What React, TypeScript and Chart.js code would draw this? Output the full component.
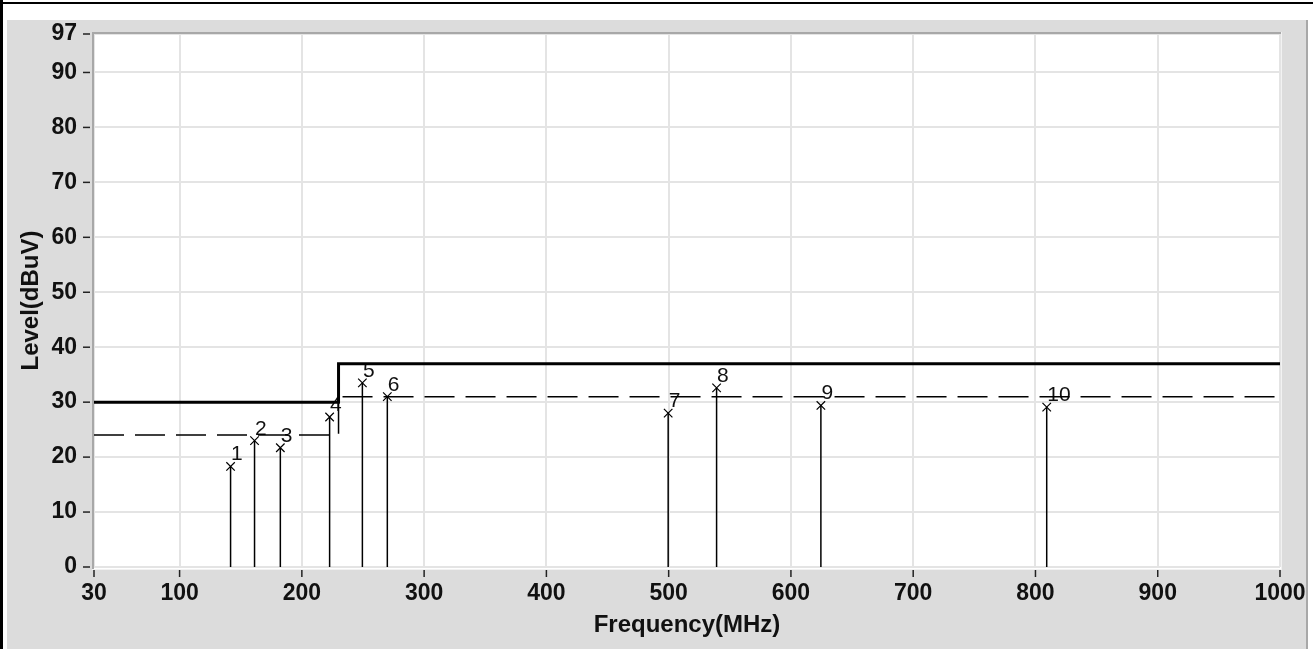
import React, { useEffect, useRef } from "react";
import { Chart, registerables } from "chart.js";

Chart.register(...registerables);

// ---- data ----
const xTicks = [30, 100, 200, 300, 400, 500, 600, 700, 800, 900, 1000];
const yTicks = [0, 10, 20, 30, 40, 50, 60, 70, 80, 90, 97];

const limitFreq = [30, 230, 230, 1000];
const limitLevel = [30, 30, 37, 37];

const marginFreq = [30, 230, 230, 1000];
const marginLevel = [24, 24, 31, 31];

const peakNo = ["1", "2", "3", "4", "5", "6", "7", "8", "9", "10"];
const peakFreq = [141.7, 161.3, 182.4, 222.7, 249.5, 269.9, 499.6, 539.2, 624.5, 809.2];
const peakLevel = [18.3, 23.0, 21.7, 27.3, 33.5, 31.0, 28.0, 32.6, 29.4, 29.1];

const xTitle = "Frequency(MHz)";
const yTitle = "Level(dBuV)";

const FONT = "'Liberation Sans', Arial, sans-serif";

const CANVAS_W = 1299;
const CANVAS_H = 629;

const framePlugin = {
  id: "framePlugin",
  beforeDraw(chart: any) {
    const { ctx, chartArea } = chart;
    ctx.save();
    ctx.fillStyle = "#ffffff";
    ctx.fillRect(chartArea.left - 1, chartArea.top - 1, chartArea.right - chartArea.left + 2, chartArea.bottom - chartArea.top + 3);
    ctx.restore();
  },
  beforeDatasetsDraw(chart: any) {
    const { ctx, chartArea, scales } = chart;
    ctx.save();
    // sunken border
    ctx.fillStyle = "#a8a8a8";
    ctx.fillRect(chartArea.left - 2, chartArea.top - 2, chartArea.right - chartArea.left + 3, 2);
    ctx.fillRect(chartArea.left - 2, chartArea.top - 2, 2, chartArea.bottom - chartArea.top + 5);
    ctx.fillStyle = "#f2f2f2";
    ctx.fillRect(chartArea.right + 1, chartArea.top - 2, 1, chartArea.bottom - chartArea.top + 5);
    ctx.fillRect(chartArea.left - 2, chartArea.bottom + 2, chartArea.right - chartArea.left + 4, 1);
    // peak labels
    ctx.fillStyle = "#111";
    ctx.font = `21px ${FONT}`;
    ctx.textAlign = "left";
    ctx.textBaseline = "alphabetic";
    peakNo.forEach((n, i) => {
      const x = scales.x.getPixelForValue(peakFreq[i]);
      const y = scales.y.getPixelForValue(peakLevel[i]);
      ctx.fillText(n, x + 0.5, y - 6);
    });
    ctx.restore();
  },
  afterDraw(chart: any) {
    const { ctx, chartArea, scales } = chart;
    ctx.save();
    ctx.strokeStyle = "#222";
    ctx.lineWidth = 1.5;
    yTicks.forEach((v) => {
      const y = scales.y.getPixelForValue(v);
      ctx.beginPath();
      ctx.moveTo(chartArea.left - 11, y);
      ctx.lineTo(chartArea.left - 4, y);
      ctx.stroke();
    });
    xTicks.forEach((v) => {
      const x = scales.x.getPixelForValue(v);
      ctx.beginPath();
      ctx.moveTo(x, chartArea.bottom + 3);
      ctx.lineTo(x, chartArea.bottom + 10);
      ctx.stroke();
    });
    ctx.restore();
  },
};

export default function App() {
  const ref = useRef<HTMLCanvasElement | null>(null);

  useEffect(() => {
    if (!ref.current) return;

    const stems = peakFreq.map((f, i) => ({
      label: "stem" + peakNo[i],
      data: [
        { x: f, y: 0 },
        { x: f, y: peakLevel[i] },
      ],
      borderColor: "#000",
      borderWidth: 1.5,
      pointRadius: 0,
      fill: false,
    }));

    const chart = new Chart(ref.current, {
      type: "line",
      data: {
        datasets: [
          {
            label: "Limit",
            data: limitFreq.map((f, i) => ({ x: f, y: limitLevel[i] })),
            borderColor: "#000",
            borderWidth: 3,
            pointRadius: 0,
            borderJoinStyle: "miter",
            fill: false,
          },
          {
            label: "Margin",
            data: marginFreq.map((f, i) => ({ x: f, y: marginLevel[i] })),
            borderColor: "#000",
            borderWidth: 1.5,
            borderDash: [30, 11],
            pointRadius: 0,
            fill: false,
          },
          {
            label: "Peaks",
            data: peakFreq.map((f, i) => ({ x: f, y: peakLevel[i] })),
            showLine: false,
            pointStyle: "crossRot",
            pointRadius: 6,
            pointBorderColor: "#000",
            pointBorderWidth: 1.2,
            borderColor: "#000",
          },
          ...stems,
        ] as any,
      },
      options: {
        responsive: false,
        animation: false,
        devicePixelRatio: 1,
        layout: { padding: { left: 0, top: 14, right: 26, bottom: 0 } },
        plugins: {
          legend: { display: false },
          tooltip: { enabled: false },
        },
        elements: { line: { tension: 0 } },
        scales: {
          x: {
            type: "linear",
            min: 30,
            max: 1000,
            afterFit: (s: any) => {
              s.height = 82;
              s.paddingLeft = 0;
              s.paddingRight = 0;
              s.paddingTop = 0;
              s.paddingBottom = 0;
            },
            afterBuildTicks: (s: any) => {
              s.ticks = xTicks.map((v) => ({ value: v }));
            },
            grid: { color: "#e4e4e4", lineWidth: 2, drawTicks: false },
            border: { display: false },
            ticks: {
              autoSkip: false,
              maxRotation: 0,
              minRotation: 0,
              padding: 13,
              color: "#111",
              font: { family: FONT, size: 23, weight: "bold" },
              callback: (v: any) => String(v),
            },
            title: {
              display: true,
              text: xTitle,
              color: "#111",
              font: { family: FONT, size: 24, weight: "bold" },
              padding: { top: 0, bottom: 9 },
            },
          },
          y: {
            type: "linear",
            min: 0,
            max: 97,
            afterFit: (s: any) => {
              s.width = 87;
              s.paddingLeft = 0;
              s.paddingRight = 0;
              s.paddingTop = 0;
              s.paddingBottom = 0;
            },
            afterBuildTicks: (s: any) => {
              s.ticks = yTicks.map((v) => ({ value: v }));
            },
            grid: { color: "#e4e4e4", lineWidth: 2, drawTicks: false },
            border: { display: false },
            ticks: {
              autoSkip: false,
              padding: 17,
              color: "#111",
              font: { family: FONT, size: 23, weight: "bold" },
              callback: (v: any) => String(v),
            },
            title: {
              display: true,
              text: yTitle,
              color: "#111",
              font: { family: FONT, size: 24, weight: "bold" },
              padding: { top: 10, bottom: 0 },
            },
          },
        },
      } as any,
      plugins: [framePlugin],
    });

    return () => chart.destroy();
  }, []);

  return (
    <div
      style={{
        position: "absolute",
        left: 0,
        top: 0,
        width: 1313,
        height: 649,
        background: "#ffffff",
        overflow: "hidden",
      }}
    >
      <div style={{ position: "absolute", left: 0, top: 2, width: 1313, height: 2, background: "#000" }} />
      <div style={{ position: "absolute", left: 0, top: 0, width: 3, height: 649, background: "#000" }} />
      <div style={{ position: "absolute", left: 7, top: 20, width: 1299, height: 629, background: "#dcdcdc" }} />
      <div style={{ position: "absolute", left: 1306, top: 20, width: 2, height: 629, background: "#a8a8a8" }} />
      <canvas
        ref={ref}
        width={CANVAS_W}
        height={CANVAS_H}
        style={{ position: "absolute", left: 7, top: 20, width: CANVAS_W, height: CANVAS_H }}
      />
    </div>
  );
}
